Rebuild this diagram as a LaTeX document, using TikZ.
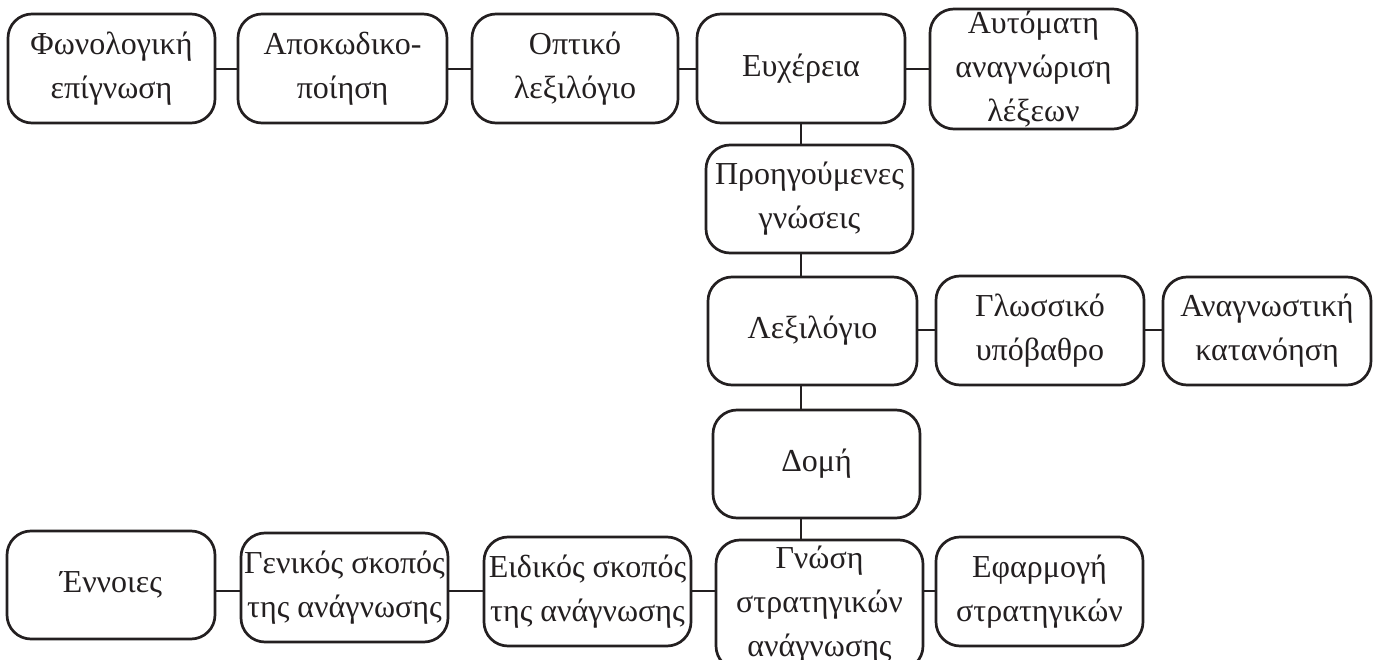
\documentclass[tikz,border=0pt]{standalone}
\usepackage{fontspec}
\setmainfont{Liberation Serif}
\definecolor{ink}{HTML}{231F20}
\begin{document}
\begin{tikzpicture}[x=1pt,y=-1pt,
  box/.style={draw=ink,line width=2.7pt,rounded corners=24pt,inner sep=0pt,
    align=center,text=ink,font=\fontsize{32}{44}\selectfont},
  link/.style={draw=ink,line width=2.7pt}]
\useasboundingbox (0,0) rectangle (1373,660);
% top row
\node[box,minimum width=207pt,minimum height=109pt] (fon) at (111.5,68.5) {Φωνολογική\\επίγνωση};
\node[box,minimum width=209pt,minimum height=109pt] (apo) at (342.5,68.5) {Αποκωδικο-\\ποίηση};
\node[box,minimum width=206pt,minimum height=109pt] (opt) at (575,68.5) {Οπτικό\\λεξιλόγιο};
\node[box,minimum width=208pt,minimum height=109pt] (eux) at (801,68.5) {Ευχέρεια};
\node[box,minimum width=207pt,minimum height=120pt] (aut) at (1033.5,69) {Αυτόματη\\αναγνώριση\\λέξεων};
% column
\node[box,minimum width=207pt,minimum height=108pt] (pro) at (809.5,199) {Προηγούμενες\\γνώσεις};
\node[box,minimum width=209pt,minimum height=108pt] (lex) at (812.5,331) {Λεξιλόγιο};
\node[box,minimum width=208pt,minimum height=109pt] (glo) at (1040,330.5) {Γλωσσικό\\υπόβαθρο};
\node[box,minimum width=208pt,minimum height=108pt] (ana) at (1267,331) {Αναγνωστική\\κατανόηση};
\node[box,minimum width=207pt,minimum height=108pt] (dom) at (816.5,464) {Δομή};
% bottom row
\node[box,minimum width=208pt,minimum height=108pt] (enn) at (111,585) {Έννοιες};
\node[box,minimum width=207pt,minimum height=109pt] (gen) at (344.5,587.5) {Γενικός σκοπός\\της ανάγνωσης};
\node[box,minimum width=207pt,minimum height=109pt] (eid) at (587.5,591.5) {Ειδικός σκοπός\\της ανάγνωσης};
\node[box,minimum width=207pt,minimum height=130pt] (gno) at (819.5,605) {Γνώση\\στρατηγικών\\ανάγνωσης};
\node[box,minimum width=207pt,minimum height=109pt] (efa) at (1039.5,591.5) {Εφαρμογή\\στρατηγικών};
\coordinate (toprow) at (0,69);
\coordinate (midrow) at (0,330);
\coordinate (botrow) at (0,591);
% connectors
\draw[link] (fon.east |- toprow) -- (apo.west |- toprow);
\draw[link] (apo.east |- toprow) -- (opt.west |- toprow);
\draw[link] (opt.east |- toprow) -- (eux.west |- toprow);
\draw[link] (eux.east |- toprow) -- (aut.west |- toprow);
\draw[link] (eux.south) -- (eux.south |- pro.north);
\draw[link] (pro.south -| eux.south) -- (eux.south |- lex.north);
\draw[link] (lex.south -| eux.south) -- (eux.south |- dom.north);
\draw[link] (dom.south -| eux.south) -- (eux.south |- gno.north);
\draw[link] (lex.east |- midrow) -- (glo.west |- midrow);
\draw[link] (glo.east |- midrow) -- (ana.west |- midrow);
\draw[link] (enn.east |- botrow) -- (gen.west |- botrow);
\draw[link] (gen.east |- botrow) -- (eid.west |- botrow);
\draw[link] (eid.east |- botrow) -- (gno.west |- botrow);
\draw[link] (gno.east |- botrow) -- (efa.west |- botrow);
\end{tikzpicture}
\end{document}
